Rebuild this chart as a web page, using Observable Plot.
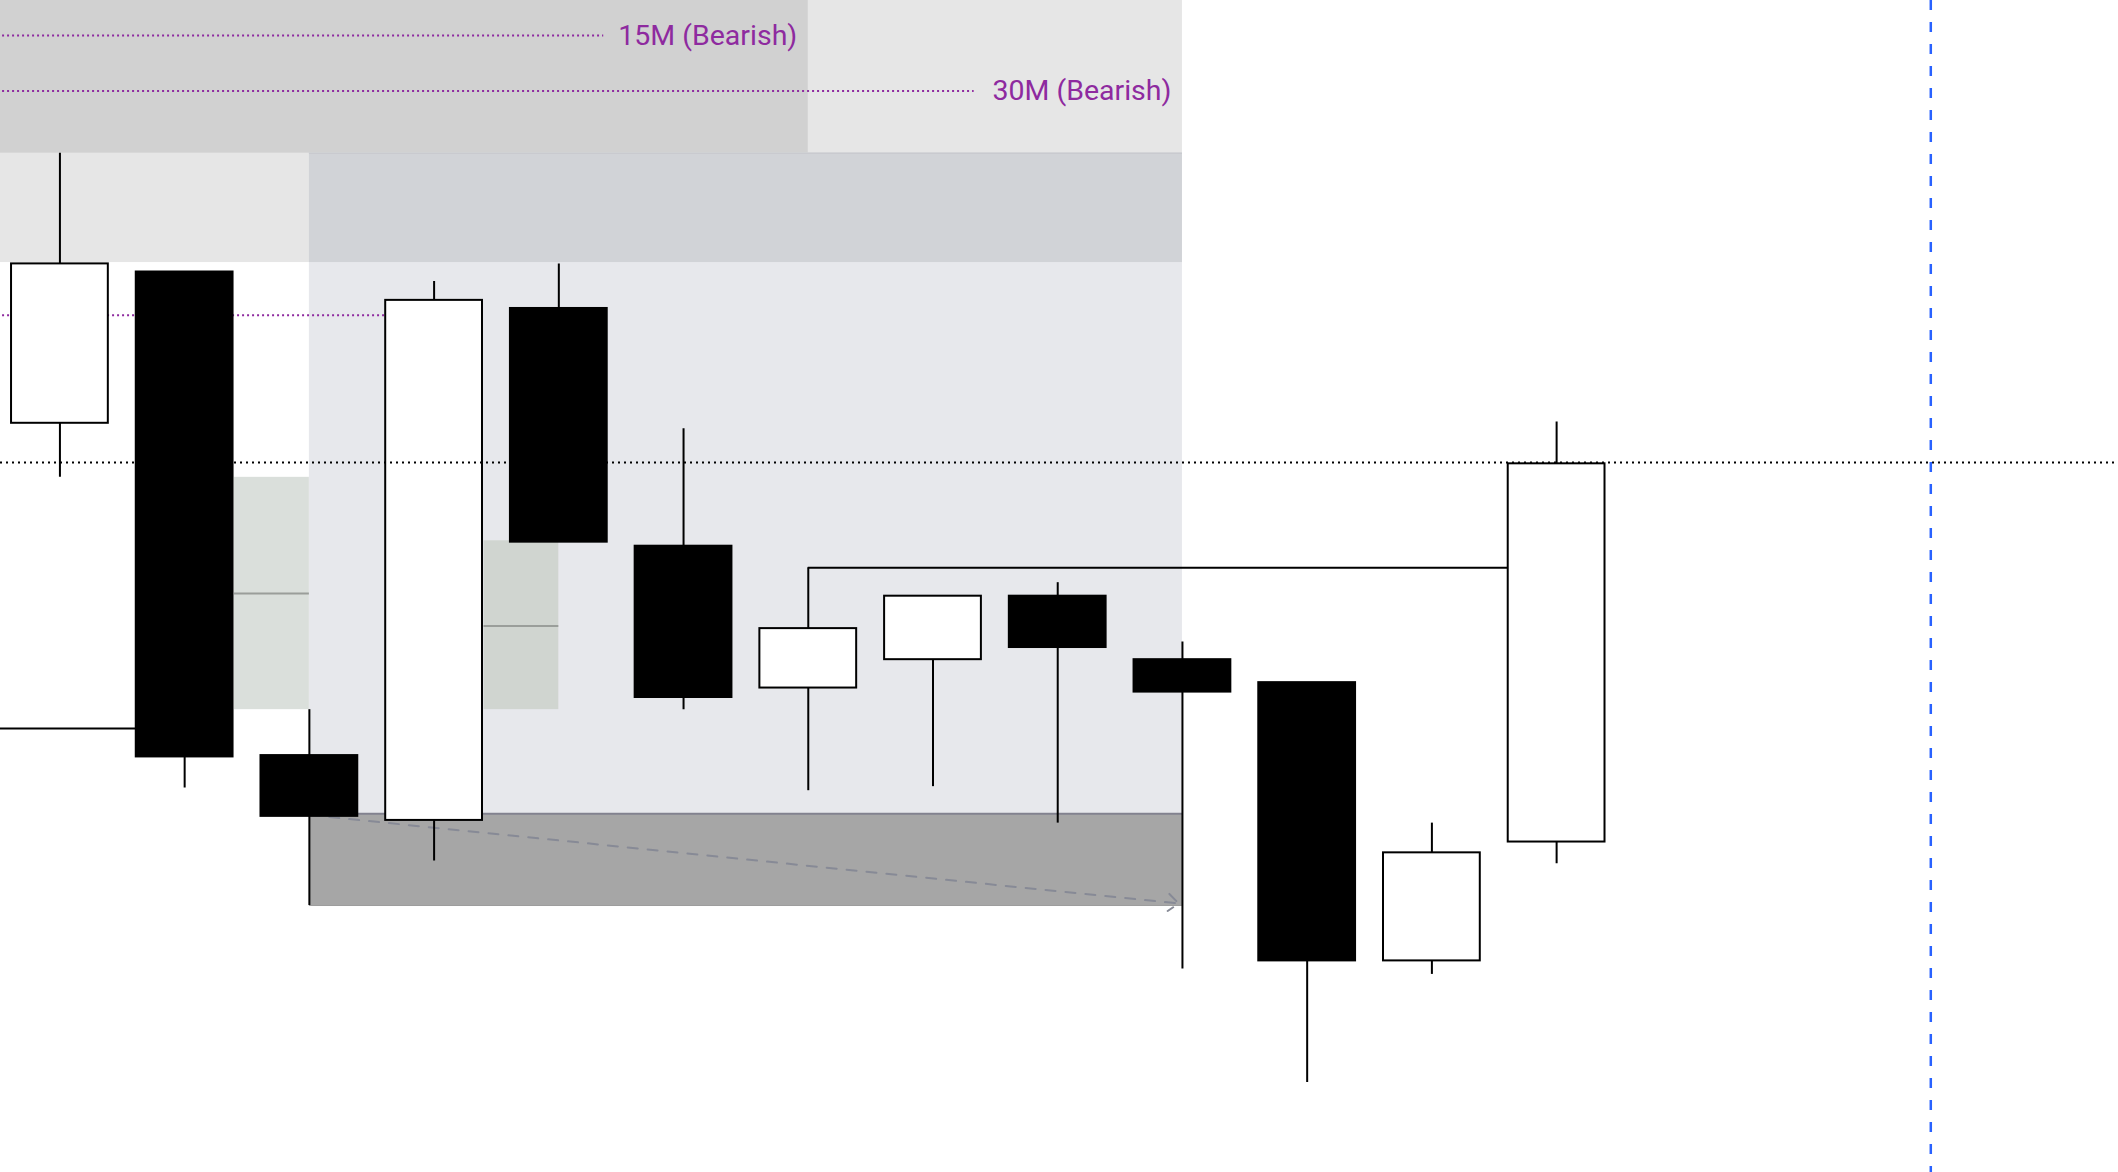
<!DOCTYPE html>
<html>
<head>
<meta charset="utf-8">
<script src="https://cdn.jsdelivr.net/npm/d3@7"></script>
<script src="https://cdn.jsdelivr.net/npm/@observablehq/plot@0.6"></script>
<style>
  html, body { margin: 0; padding: 0; background: #ffffff; overflow: hidden; }
  #chart svg { display: block; }
</style>
</head>
<body>
<div id="chart"></div>
<script>
// ---- candle data (bar index, OHLC) ----
const barIndex = [0, 1, 2, 3, 4, 5, 6, 7, 8, 9, 10, 11, 12];
const opens  = [2618.7, 2629.9, 2594.1, 2589.3, 2627.2, 2609.6, 2599.1, 2601.2, 2605.9, 2601.2, 2599.5, 2578.9, 2587.7];
const highs  = [2638.7, 2629.9, 2597.5, 2629.2, 2630.5, 2618.3, 2608.0, 2605.9, 2606.9, 2602.5, 2599.5, 2589.1, 2618.8];
const lows   = [2614.7, 2591.7, 2583.0, 2586.3, 2609.9, 2597.5, 2591.5, 2591.8, 2589.1, 2578.3, 2569.9, 2577.9, 2586.1];
const closes = [2630.5, 2594.0, 2589.6, 2627.8, 2609.9, 2598.4, 2603.5, 2605.9, 2602.1, 2598.8, 2578.9, 2586.9, 2615.7];

// ---- zones (bar range, price range) ----
const zone30M = {x1: -0.5, x2: 9, low: 2630.6, high: 2652};   // 30M bearish zone
const zone15M = {x1: -0.5, x2: 6, low: 2638.7, high: 2652};   // 15M bearish zone
const zoneRange = {x1: 2, x2: 9, low: 2589.8, high: 2638.7};  // range box
const zoneLiquidity = {x1: 2, x2: 9, low: 2583.0, high: 2589.8};
const gapX1   = [1.4, 3.4];
const gapX2   = [2, 4];
const gapLow  = [2597.5, 2597.5];
const gapHigh = [2614.7, 2610.0];
const gapMid  = [2606.1, 2603.7];

// ---- levels ----
const tfLabels   = ["15M (Bearish)", "30M (Bearish)"];
const tfLevels   = [2647.4, 2643.3];
const tfLineEnd  = [4.36, 7.33];
const tfZoneEnd  = [6, 9];
const purpleLevel = {price: 2626.7, x1: -0.5, x2: 3};
const leftLevel   = {price: 2596.1, x1: -0.5, x2: 1};
const highLevel   = {price: 2608.0, x1: 6, x2: 12};
const dottedLevel = 2615.8;
const arrowPath   = {x1: 2, y1: 2589.7, x2: 8.97, y2: 2583.15};
const nowBar      = 15;

// ---- build tables ----
const candles = barIndex.map((i, k) => ({i, open: opens[k], high: highs[k], low: lows[k], close: closes[k]}));
const gaps = gapX1.map((x1, k) => ({x1, x2: gapX2[k], low: gapLow[k], high: gapHigh[k], mid: gapMid[k]}));
const tfs = tfLabels.map((t, k) => ({text: t, price: tfLevels[k], lineEnd: tfLineEnd[k], zoneEnd: tfZoneEnd[k]}));
const overlap = {
  x1: Math.max(zone30M.x1, zoneRange.x1), x2: Math.min(zone30M.x2, zoneRange.x2),
  low: Math.max(zone30M.low, zoneRange.low), high: Math.min(zone30M.high, zoneRange.high)
};

const half = 0.388;
const font = "Roboto, 'Noto Sans', sans-serif";

const chart = Plot.plot({
  width: 2118,
  height: 1172,
  margin: 0,
  style: {background: "#ffffff", overflow: "hidden"},
  x: {domain: [-0.4765, 16.505], axis: null},
  y: {domain: [2563.235, 2650], axis: null},
  marks: [
    // zones
    Plot.rect([zone30M], {x1: "x1", x2: "x2", y1: "low", y2: "high", fill: "#e6e6e6"}),
    Plot.rect([zone15M], {x1: "x1", x2: "x2", y1: "low", y2: "high", fill: "#d1d1d1"}),
    Plot.rect([zoneRange], {x1: "x1", x2: "x2", y1: "low", y2: "high", fill: "#e7e8ec"}),
    Plot.rect([overlap], {x1: "x1", x2: "x2", y1: "low", y2: "high", fill: "#d1d3d7"}),
    Plot.ruleY([zoneRange], {y: "high", x1: "x1", x2: "x2", stroke: "#c4c5ca", strokeWidth: 1}),
    Plot.rect([zoneLiquidity], {x1: "x1", x2: "x2", y1: "low", y2: "high", fill: "#a6a6a6"}),
    Plot.ruleY([zoneLiquidity], {y: "high", x1: "x1", x2: "x2", stroke: "#82828f", strokeWidth: 2}),
    Plot.ruleY([zoneLiquidity], {y: "low", x1: "x1", x2: "x2", stroke: "#9c9c9c", strokeWidth: 1}),
    // imbalance boxes
    Plot.rect(gaps.slice(0, 1), {x1: "x1", x2: "x2", y1: "low", y2: "high", fill: "#dadfdb"}),
    Plot.rect(gaps.slice(1), {x1: "x1", x2: "x2", y1: "low", y2: "high", fill: "#d0d5d0"}),
    Plot.ruleY(gaps, {y: "mid", x1: "x1", x2: "x2", stroke: "#9a9e9a", strokeWidth: 2}),
    // timeframe levels
    Plot.ruleY(tfs, {y: "price", x1: -0.5, x2: "lineEnd", stroke: "#8e2a9f", strokeWidth: 2, strokeDasharray: "2,3"}),
    Plot.text(tfs, {x: "zoneEnd", y: "price", text: "text", textAnchor: "end", dx: -11, fill: "#8e2a9f",
      fontSize: 28.5, fontFamily: font, lineAnchor: "middle"}),
    Plot.ruleY([purpleLevel], {y: "price", x1: "x1", x2: "x2", stroke: "#8e2a9f", strokeWidth: 2, strokeDasharray: "2,3"}),
    // solid levels
    Plot.ruleY([leftLevel], {y: "price", x1: "x1", x2: "x2", stroke: "#000", strokeWidth: 2}),
    Plot.ruleY([highLevel], {y: "price", x1: "x1", x2: "x2", stroke: "#000", strokeWidth: 2}),
    // dashed arrow
    Plot.arrow([arrowPath], {x1: "x1", y1: "y1", x2: "x2", y2: "y2", stroke: "#878a96", strokeWidth: 2,
      strokeDasharray: "10,10", headLength: 10, headAngle: 80}),
    // candles
    Plot.ruleX(candles, {x: "i", y1: "low", y2: "high", stroke: "#000", strokeWidth: 2}),
    Plot.rect(candles, {x1: d => d.i - half, x2: d => d.i + half, y1: "open", y2: "close",
      fill: d => d.close > d.open ? "#ffffff" : "#000000", stroke: "#000", strokeWidth: 2}),
    // current price dotted line & time cursor
    Plot.ruleY([dottedLevel], {stroke: "#000", strokeWidth: 2, strokeDasharray: "2,4"}),
    Plot.ruleX([nowBar], {stroke: "#2962ff", strokeWidth: 2.5, strokeDasharray: "10,12"})
  ]
});
document.getElementById("chart").append(chart);
</script>
</body>
</html>
